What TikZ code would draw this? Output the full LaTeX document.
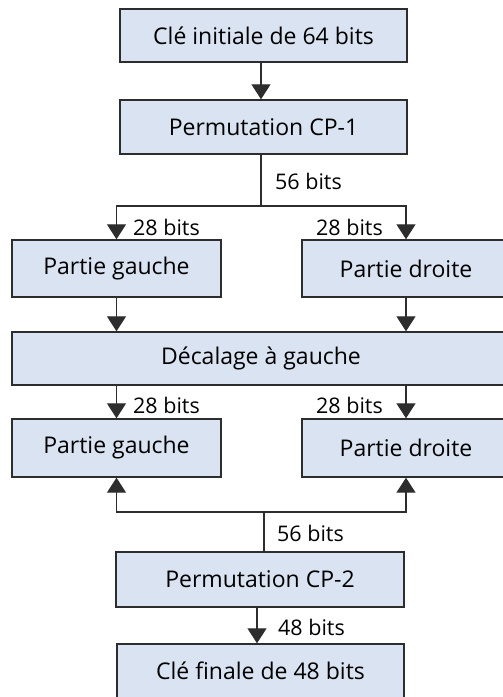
\documentclass[tikz,border=0pt]{standalone}
\usepackage{fontspec}
\setmainfont{Open Sans}
\usetikzlibrary{arrows.meta}
\definecolor{boxfill}{RGB}{218,227,241}
\definecolor{boxline}{RGB}{45,45,45}
\begin{document}
\begin{tikzpicture}[x=1pt,y=-1pt,
  box/.style={draw=boxline,fill=boxfill,line width=1.4pt,inner sep=0pt,font=\fontsize{23}{27}\selectfont},
  conn/.style={draw=boxline,line width=1.3pt},
  arr/.style={conn,-{Triangle[width=19pt,length=15pt]}},
  lbl/.style={font=\fontsize{21.5}{25}\selectfont,inner sep=0pt}]
\useasboundingbox (0,0) rectangle (503,697);
\node[box,minimum width=287pt,minimum height=53pt] (k64) at (263.5,35.5) {Clé initiale de 64 bits};
\node[box,minimum width=287pt,minimum height=54pt] (cp1) at (263.5,127) {Permutation CP-1};
\node[box,minimum width=209pt,minimum height=57pt] (g1) at (116.5,268.5) {Partie gauche};
\node[box,minimum width=208pt,minimum height=57pt] (d1) at (406,268.5) {Partie droite};
\node[box,minimum width=498pt,minimum height=53pt] (dec) at (261,358.5) {Décalage à gauche};
\node[box,minimum width=209pt,minimum height=58pt] (g2) at (116.5,448) {Partie gauche};
\node[box,minimum width=208pt,minimum height=58pt] (d2) at (406,448) {Partie droite};
\node[box,minimum width=288pt,minimum height=55pt] (cp2) at (260,579.5) {Permutation CP-2};
\node[box,minimum width=287pt,minimum height=54pt] (k48) at (260.5,671) {Clé finale de 48 bits};
% connectors
\draw[arr] (k64.south -| 261,0) -- (cp1.north -| 261,0);
\coordinate (s1) at (261,206);
\draw[conn] (cp1.south -| s1) -- (s1);
\draw[arr] (s1) -| (g1.north);
\draw[arr] (s1) -| (d1.north);
\draw[arr] (g1.south) -- (dec.north -| g1.south);
\draw[arr] (d1.south) -- (dec.north -| d1.south);
\draw[arr] (dec.south -| g2.north) -- (g2.north);
\draw[arr] (dec.south -| d2.north) -- (d2.north);
\coordinate (s2) at (264,512);
\draw[conn] (cp2.north -| s2) -- (s2);
\draw[arr] (s2) -| (g2.south);
\draw[arr] (s2) -| (d2.south);
\draw[arr] (cp2.south -| 257,0) -- (k48.north -| 257,0);
% labels
\node[lbl,anchor=west] (l56a) at (275,181) {56 bits};
\node[lbl,anchor=west] (l28a) at (133,227) {28 bits};
\node[lbl,anchor=east] (l28b) at (383,227) {28 bits};
\node[lbl,anchor=west] (l28c) at (133,405) {28 bits};
\node[lbl,anchor=east] (l28d) at (383,405) {28 bits};
\node[lbl,anchor=west] (l56b) at (277,533) {56 bits};
\node[lbl,anchor=west] (l48) at (278,627) {48 bits};
\end{tikzpicture}
\end{document}
